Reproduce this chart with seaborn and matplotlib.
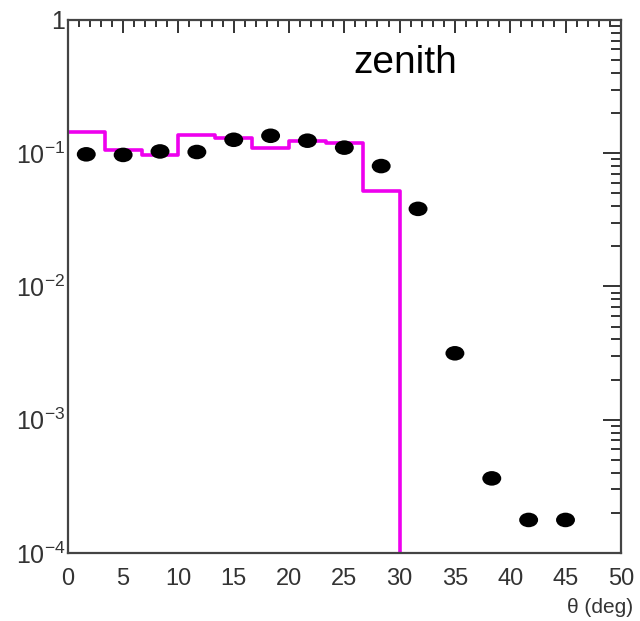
import numpy as np
import pandas as pd
import seaborn as sns
import matplotlib
matplotlib.use("Agg")
import matplotlib.pyplot as plt
from matplotlib.markers import MarkerStyle
from matplotlib.transforms import Affine2D
from matplotlib.ticker import LogLocator, MultipleLocator, NullFormatter, FuncFormatter

# Zenith-angle distribution: simulation (histogram) vs. measurement (points)
bin_edges = [0, 10/3, 20/3, 10, 40/3, 50/3, 20, 70/3, 80/3, 30,
             100/3, 110/3, 40, 130/3, 140/3, 50]
sim_values = [0.145, 0.106, 0.097, 0.137, 0.129, 0.110, 0.124, 0.120, 0.0524,
              0, 0, 0, 0, 0, 0]
data_theta = [5/3, 5, 25/3, 35/3, 15, 55/3, 65/3, 25, 85/3, 95/3, 35, 115/3, 125/3, 45]
data_values = [0.098, 0.097, 0.103, 0.102, 0.126, 0.135, 0.124, 0.110, 0.080,
               0.0382, 0.00315, 3.63e-4, 1.77e-4, 1.77e-4]

sns.set_theme(style="white")
plt.rcParams["font.family"] = ["Liberation Sans", "DejaVu Sans"]

fig = plt.figure(figsize=(6.4, 6.21), dpi=100)
ax = fig.add_axes([0.106, 0.1095, 0.864, 0.8585])
ax.set_yscale("log")

centers = [(a + b) / 2 for a, b in zip(bin_edges[:-1], bin_edges[1:])]
sim = pd.DataFrame({"theta": centers, "w": sim_values})
sns.histplot(data=sim, x="theta", weights="w", bins=bin_edges, element="step",
             fill=False, color="#ee00ee", linewidth=2.6, ax=ax)

dots = pd.DataFrame({"theta": data_theta, "v": data_values})
ellipse = MarkerStyle("o", transform=Affine2D().scale(1.3, 1.0))
sns.scatterplot(data=dots, x="theta", y="v", marker=ellipse, s=110,
                color="black", edgecolor="none", ax=ax, zorder=3)

ax.set_xlim(0, 50)
ax.set_ylim(1e-4, 1)
ax.set_xlabel("")
ax.set_ylabel("")


def decade_label(v, pos):
    n = int(round(np.log10(v)))
    return "1" if n == 0 else r"$\mathdefault{10^{%d}}$" % n


ax.xaxis.set_major_locator(MultipleLocator(5))
ax.xaxis.set_minor_locator(MultipleLocator(1))
ax.yaxis.set_major_locator(LogLocator(base=10, numticks=10))
ax.yaxis.set_major_formatter(FuncFormatter(decade_label))
ax.yaxis.set_minor_locator(LogLocator(base=10, subs=np.arange(2, 10), numticks=20))
ax.yaxis.set_minor_formatter(NullFormatter())

ax.tick_params(axis="both", which="both", direction="in", top=True, right=True,
               colors="#333333", labelcolor="#333333", width=1.4)
ax.tick_params(axis="x", which="major", length=9, labelsize=17, pad=11)
ax.tick_params(axis="x", which="minor", length=5)
ax.tick_params(axis="y", which="major", length=13, labelsize=18, pad=2)
ax.tick_params(axis="y", which="minor", length=7)

for sp in ax.spines.values():
    sp.set_color("#444444")
    sp.set_linewidth(1.6)

ax.text(0.61, 0.92, "zenith", transform=ax.transAxes, fontsize=28,
        ha="center", va="center", color="black")
fig.text(0.99, 0.0225, "\u03b8 (deg)", fontsize=15, ha="right", va="center",
         color="#333333")

fig.savefig("out.png", dpi=100)
